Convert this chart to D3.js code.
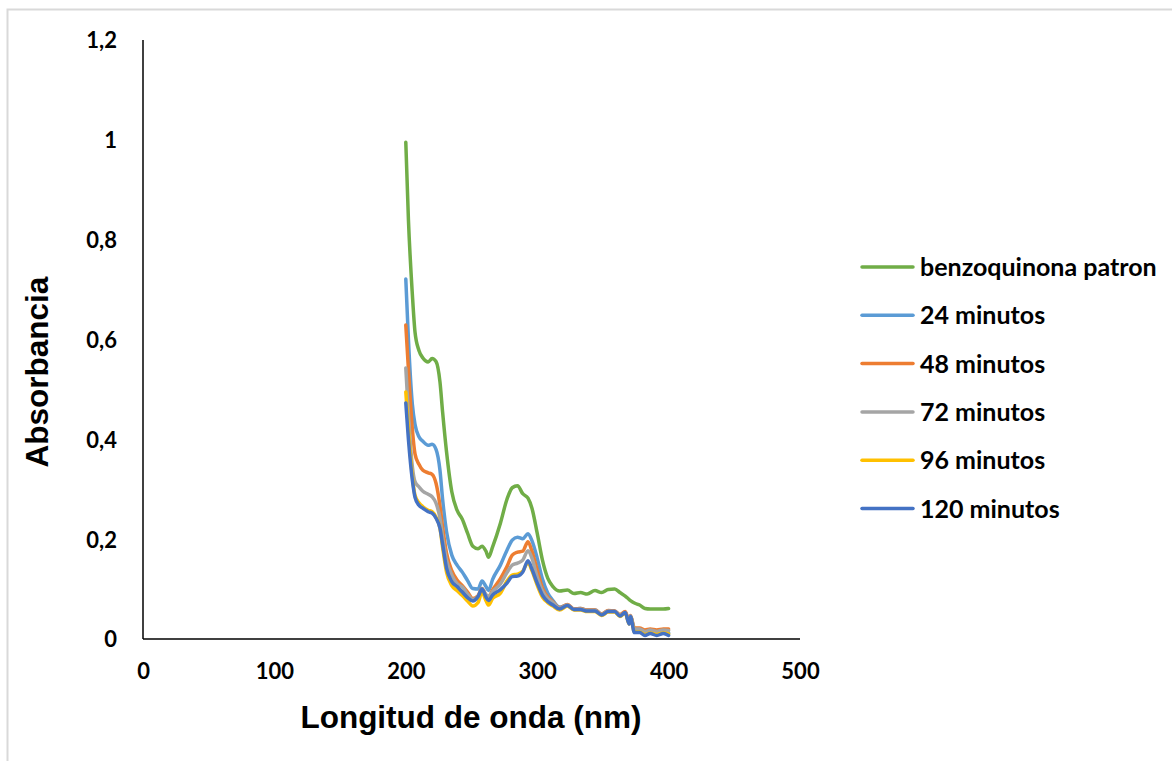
<!DOCTYPE html>
<html>
<head>
<meta charset="utf-8">
<script src="https://cdn.jsdelivr.net/npm/d3@7"></script>
<style>
  body { margin: 0; background: #fff; }
  svg text { fill: #000; }
  .tick-label { font-family: Lato, "Open Sans", sans-serif; font-weight: bold; font-size: 22px; }
  .legend-label { font-family: Lato, "Open Sans", sans-serif; font-weight: bold; font-size: 25px; }
  .axis-title { font-family: "Liberation Sans", Arial, sans-serif; font-weight: bold; font-size: 31.5px; }
</style>
</head>
<body>
<div id="chart"></div>
<script>
// wavelengths (nm), shared by every series
let wavelength = [200, 202, 205, 207, 210, 213, 217, 220, 223, 226, 228, 231, 235, 239, 243, 247, 251, 255, 258, 261,
  263, 266, 272, 277, 281, 285, 289, 293, 296, 300, 304, 308, 312, 317, 323, 328, 333, 338, 344, 349,
  354, 359, 363, 367, 370, 371, 374, 378, 382, 386, 391, 396, 400];

let patron = [0.995, 0.84, 0.69, 0.615, 0.578, 0.563, 0.555, 0.562, 0.556, 0.515, 0.455, 0.375, 0.295, 0.258, 0.24, 0.212, 0.186, 0.181, 0.186, 0.176,
  0.164, 0.184, 0.232, 0.28, 0.303, 0.307, 0.291, 0.282, 0.262, 0.212, 0.158, 0.122, 0.105, 0.096, 0.098, 0.091, 0.093, 0.09, 0.097, 0.093,
  0.099, 0.1, 0.093, 0.086, 0.079, 0.077, 0.072, 0.068, 0.061, 0.06, 0.06, 0.06, 0.061];

let min24 = [0.721, 0.6, 0.47, 0.43, 0.405, 0.396, 0.388, 0.39, 0.38, 0.338, 0.28, 0.215, 0.168, 0.148, 0.134, 0.117, 0.101, 0.1, 0.116, 0.105,
  0.097, 0.119, 0.148, 0.178, 0.198, 0.204, 0.201, 0.211, 0.197, 0.162, 0.12, 0.092, 0.077, 0.064, 0.068, 0.06, 0.061, 0.058, 0.058, 0.05,
  0.056, 0.056, 0.048, 0.054, 0.033, 0.046, 0.018, 0.018, 0.012, 0.015, 0.012, 0.015, 0.012];

let min48 = [0.629, 0.54, 0.42, 0.371, 0.35, 0.338, 0.333, 0.33, 0.312, 0.267, 0.225, 0.172, 0.137, 0.118, 0.107, 0.094, 0.081, 0.087, 0.101, 0.088,
  0.084, 0.098, 0.121, 0.145, 0.168, 0.174, 0.176, 0.195, 0.176, 0.138, 0.102, 0.084, 0.074, 0.062, 0.069, 0.06, 0.061, 0.058, 0.058, 0.05,
  0.057, 0.056, 0.049, 0.055, 0.035, 0.047, 0.022, 0.022, 0.018, 0.02, 0.018, 0.02, 0.02];

let min72 = [0.543, 0.45, 0.345, 0.315, 0.305, 0.296, 0.29, 0.285, 0.272, 0.242, 0.205, 0.158, 0.128, 0.111, 0.104, 0.09, 0.079, 0.085, 0.1, 0.089,
  0.085, 0.095, 0.11, 0.133, 0.148, 0.152, 0.158, 0.177, 0.162, 0.124, 0.096, 0.081, 0.073, 0.061, 0.068, 0.059, 0.06, 0.057, 0.057, 0.049,
  0.056, 0.055, 0.047, 0.053, 0.032, 0.046, 0.02, 0.02, 0.015, 0.018, 0.015, 0.018, 0.017];

let min96 = [0.495, 0.42, 0.325, 0.288, 0.273, 0.265, 0.258, 0.255, 0.244, 0.222, 0.184, 0.134, 0.107, 0.097, 0.087, 0.076, 0.066, 0.073, 0.094, 0.077,
  0.068, 0.081, 0.092, 0.116, 0.128, 0.13, 0.136, 0.153, 0.137, 0.108, 0.084, 0.073, 0.066, 0.058, 0.066, 0.058, 0.058, 0.055, 0.055, 0.047,
  0.054, 0.054, 0.045, 0.052, 0.03, 0.044, 0.014, 0.014, 0.009, 0.012, 0.009, 0.012, 0.01];

let min120 = [0.473, 0.4, 0.318, 0.284, 0.268, 0.262, 0.255, 0.252, 0.242, 0.222, 0.19, 0.142, 0.115, 0.105, 0.094, 0.083, 0.076, 0.085, 0.1, 0.084,
  0.077, 0.088, 0.099, 0.112, 0.125, 0.126, 0.134, 0.157, 0.14, 0.112, 0.088, 0.075, 0.068, 0.06, 0.067, 0.059, 0.059, 0.056, 0.056, 0.048,
  0.055, 0.055, 0.046, 0.053, 0.03, 0.045, 0.013, 0.013, 0.007, 0.011, 0.007, 0.011, 0.007];

let seriesNames = ["benzoquinona patron", "24 minutos", "48 minutos", "72 minutos", "96 minutos", "120 minutos"];
let seriesValues = [patron, min24, min48, min72, min96, min120];
let seriesColors = ["#70AD47", "#5B9BD5", "#ED7D31", "#A5A5A5", "#FFC000", "#4472C4"];

let xTicks = [0, 100, 200, 300, 400, 500];
let yTicks = [0, 0.2, 0.4, 0.6, 0.8, 1, 1.2];

let width = 1172;
let height = 761;

let svg = d3.select("#chart")
  .append("svg")
  .attr("width", width)
  .attr("height", height);

// chart area border (runs off the right and bottom edges)
svg.append("rect")
  .attr("x", 7.5)
  .attr("y", 9.5)
  .attr("width", 1200)
  .attr("height", 800)
  .attr("fill", "#fff")
  .attr("stroke", "#d9d9d9")
  .attr("stroke-width", 2);

let xScale = d3.scaleLinear().domain([0, 500]).range([143, 800]);
let yScale = d3.scaleLinear().domain([0, 1.2]).range([639, 40]);

// axis lines without tick marks
let xAxis = d3.axisBottom(xScale).tickValues(xTicks).tickSize(0).tickPadding(24)
  .tickFormat(d => d);
let yAxis = d3.axisLeft(yScale).tickValues(yTicks).tickSize(0).tickPadding(26)
  .tickFormat(d => String(d).replace(".", ","));

let gx = svg.append("g")
  .attr("transform", "translate(0," + yScale(0) + ")")
  .call(xAxis);
let gy = svg.append("g")
  .attr("transform", "translate(" + xScale(0) + ",0)")
  .call(yAxis);

[gx, gy].forEach(g => {
  g.attr("font-family", null).attr("font-size", null);
  g.select(".domain").attr("stroke", "#000").attr("stroke-width", 1.5).attr("d", null);
  g.selectAll(".tick text").attr("class", "tick-label");
});
gx.select(".domain").attr("d", "M" + xScale(0) + ",0H" + xScale(500));
gy.select(".domain").attr("d", "M0," + yScale(1.2) + "V" + yScale(0));
gy.selectAll(".tick text").attr("dy", "0.36em");

// series lines
let line = d3.line()
  .x((d, i) => xScale(wavelength[i]))
  .y(d => yScale(d))
  .curve(d3.curveMonotoneX);

svg.append("g")
  .selectAll("path")
  .data(seriesValues)
  .enter()
  .append("path")
  .attr("d", line)
  .attr("fill", "none")
  .attr("stroke", (d, i) => seriesColors[i])
  .attr("stroke-width", 3.5)
  .attr("stroke-linejoin", "round")
  .attr("stroke-linecap", "round");

// axis titles
svg.append("text")
  .attr("class", "axis-title")
  .attr("x", 471)
  .attr("y", 728)
  .attr("text-anchor", "middle")
  .text("Longitud de onda (nm)");

svg.append("text")
  .attr("class", "axis-title")
  .attr("transform", "translate(48,372) rotate(-90)")
  .attr("text-anchor", "middle")
  .text("Absorbancia");

// legend
let legend = svg.append("g")
  .selectAll("g")
  .data(seriesNames)
  .enter()
  .append("g")
  .attr("transform", (d, i) => "translate(861," + (267 + i * 48.3) + ")");

legend.append("line")
  .attr("x1", 1)
  .attr("x2", 52)
  .attr("stroke", (d, i) => seriesColors[i])
  .attr("stroke-width", 3.5)
  .attr("stroke-linecap", "round");

legend.append("text")
  .attr("class", "legend-label")
  .attr("x", 59)
  .attr("dy", "0.36em")
  .text(d => d);
</script>
</body>
</html>
